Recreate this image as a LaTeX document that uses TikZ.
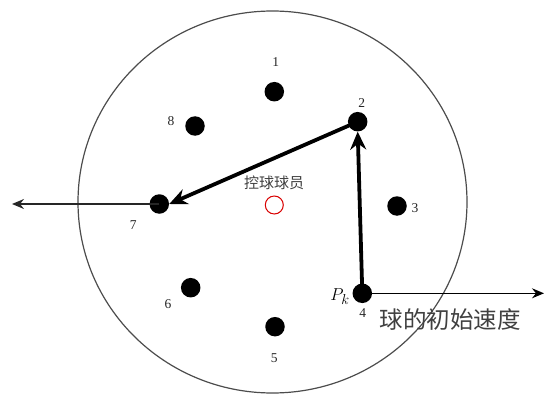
\documentclass[tikz,border=0pt]{standalone}
\usepackage{fontspec}
\setmainfont{Liberation Serif}
\newfontfamily\cjk{Noto Sans CJK SC}
\usetikzlibrary{arrows.meta}
\begin{document}
\begin{tikzpicture}[x=1pt,y=-1pt,
  player/.style={circle,fill=black,inner sep=0pt,minimum size=19.5pt},
  numlbl/.style={font=\fontsize{13.5}{13.5}\selectfont,text=black!85},
  pass/.style={line width=3.8pt,-{Stealth[length=18pt,width=16pt,inset=6pt]}},
  thinarrow/.style={line width=1.4pt,-{Stealth[length=12pt,width=10pt,inset=4pt]}}]
\useasboundingbox (0,0) rectangle (544,396);
% field
\draw[black!70,line width=1.2pt] (272.5,202) ellipse [x radius=194.5, y radius=191];
% players
\node[player] (p1) at (274.3,91.7) {};
\node[player] (p2) at (357.7,121.7) {};
\node[player] (p3) at (397,206) {};
\node[player] (p4) at (362.3,293.3) {};
\node[player] (p5) at (275,326.7) {};
\node[player] (p6) at (190.7,287.7) {};
\node[player] (p7) at (159.3,204) {};
\node[player] (p8) at (195,126) {};
% labels
\node[numlbl] (l1) at (275.7,61.7) {1};
\node[numlbl] (l2) at (361.7,102.7) {2};
\node[numlbl] (l3) at (415,208) {3};
\node[numlbl] (l4) at (362.7,312.7) {4};
\node[numlbl] (l5) at (274.3,358.3) {5};
\node[numlbl] (l6) at (168,304.3) {6};
\node[numlbl] (l7) at (133.3,225) {7};
\node[numlbl] (l8) at (171,120.7) {8};
\node[font=\fontsize{19}{19}\selectfont] (pk) at (340,297) {$P_k$};
% ball holder
\node[circle,draw=red!85!black,line width=1pt,minimum size=18pt,inner sep=0pt] (ball) at (274.3,205) {};
\node[font=\cjk\fontsize{15}{15}\selectfont,text=black!75] (balllbl) at (274,182.7) {控球球员};
% passes
\draw[pass] (p4.center) -- (p2.south);
\draw[pass] (p2.center) -- (p7.east);
% out arrows
\coordinate (left) at (12,204);
\coordinate (right) at (544,293.3);
\draw[thinarrow,black!85] (p7.center) -- (left);
\draw[thinarrow] (p4.center) -- (right);
\node[font=\cjk\fontsize{23.5}{23.5}\selectfont,text=black!75] (vel) at (450,320) {球的初始速度};
\end{tikzpicture}
\end{document}
